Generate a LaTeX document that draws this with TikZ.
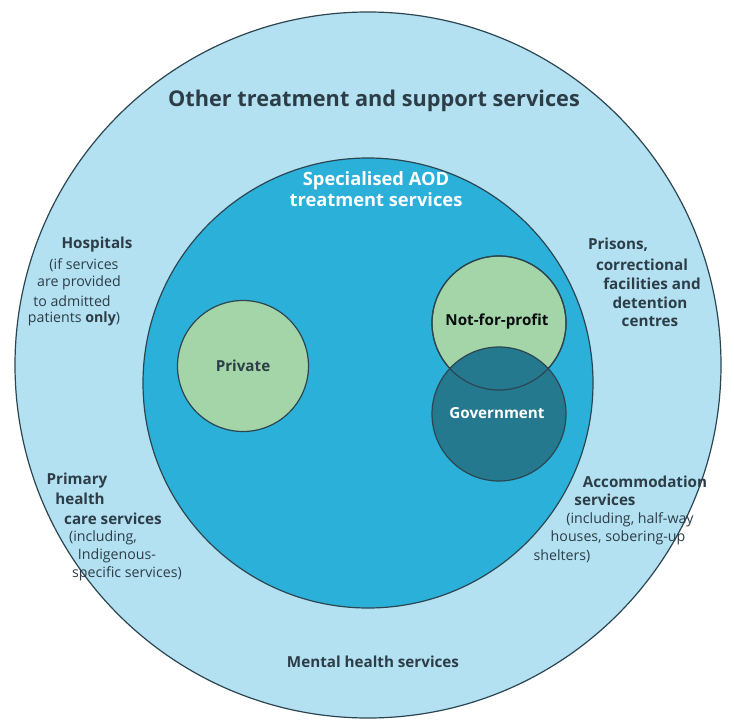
\documentclass[tikz,border=0pt]{standalone}
\usepackage{fontspec}
\setmainfont{Open Sans}
\definecolor{outerc}{HTML}{B3E1F2}
\definecolor{innerc}{HTML}{2BB0DA}
\definecolor{greenc}{HTML}{A3D5A9}
\definecolor{govc}{HTML}{25798F}
\definecolor{edgec}{HTML}{2C4651}
\definecolor{txt}{HTML}{2C3D47}
\tikzset{
  ring/.style={circle, draw=edgec, line width=1.2pt, inner sep=0pt},
  head/.style={text=txt, inner sep=0pt, font=\fontsize{15.2}{18}\selectfont\bfseries},
  subl/.style={text=txt, inner sep=0pt, font=\fontsize{14.2}{17}\selectfont},
}
\begin{document}
\begin{tikzpicture}[x=1pt,y=-1pt]
\useasboundingbox (0,0) rectangle (734,722);
\fill[white] (0,0) rectangle (734,722);
% circles
\node[ring, fill=outerc, minimum size=706pt] (outer) at (368,365) {};
\node[ring, fill=innerc, minimum size=450pt] (inner) at (368,383) {};
\node[ring, fill=greenc, minimum size=131pt] (private) at (243,366) {};
\node[ring, fill=greenc, minimum size=134pt] (nfp) at (499,323) {};
\node[ring, fill=govc, minimum size=134pt] (gov) at (499,414) {};
\node[ring, minimum size=134pt] (nfpedge) at (499,323) {};
% titles
\node[text=txt, inner sep=0pt, font=\fontsize{21.7}{25}\selectfont\bfseries] (title) at (374,101) {Other treatment and support services};
\node[text=white, inner sep=0pt, align=center, font=\fontsize{18.3}{21}\selectfont\bfseries] (aod) at (376,189) {Specialised AOD\\treatment services};
\node[head] (privlbl) at (private) {Private};
\node[head, text=black!80!txt] (nfplbl) at (497,322) {Not-for-profit};
\node[head, text=white] (govlbl) at (497,413) {Government};
% Hospitals
\node[head] (h1) at (97,245) {Hospitals};
\node[subl] (h2) at (84,265) {(if services};
\node[subl] (h3) at (79,283) {are provided};
\node[subl] (h4) at (72,301) {to admitted};
\node[subl] (h5) at (74,319) {patients \textbf{only})};
% Prisons
\node[head] (p1) at (618,245) {Prisons,};
\node[head] (p2) at (642,265) {correctional};
\node[head] (p3) at (652,284) {facilities and};
\node[head] (p4) at (650,303) {detention};
\node[head] (p5) at (650,322) {centres};
% Primary
\node[head] (q1) at (77,481) {Primary};
\node[head] (q2) at (80,499) {health};
\node[head] (q3) at (113,519) {care services};
\node[subl] (q4) at (103,538) {(including,};
\node[subl] (q5) at (117,556) {Indigenous-};
\node[subl] (q6) at (127,574) {specific services)};
% Accommodation
\node[head] (a1) at (645,482) {Accommodation};
\node[head] (a2) at (605,500) {services};
\node[subl] (a3) at (630,520) {(including, half-way};
\node[subl] (a4) at (618,538) {houses, sobering-up};
\node[subl] (a5) at (562,556) {shelters)};
% Mental health
\node[head] (mh) at (373,662) {Mental health services};
\end{tikzpicture}
\end{document}
